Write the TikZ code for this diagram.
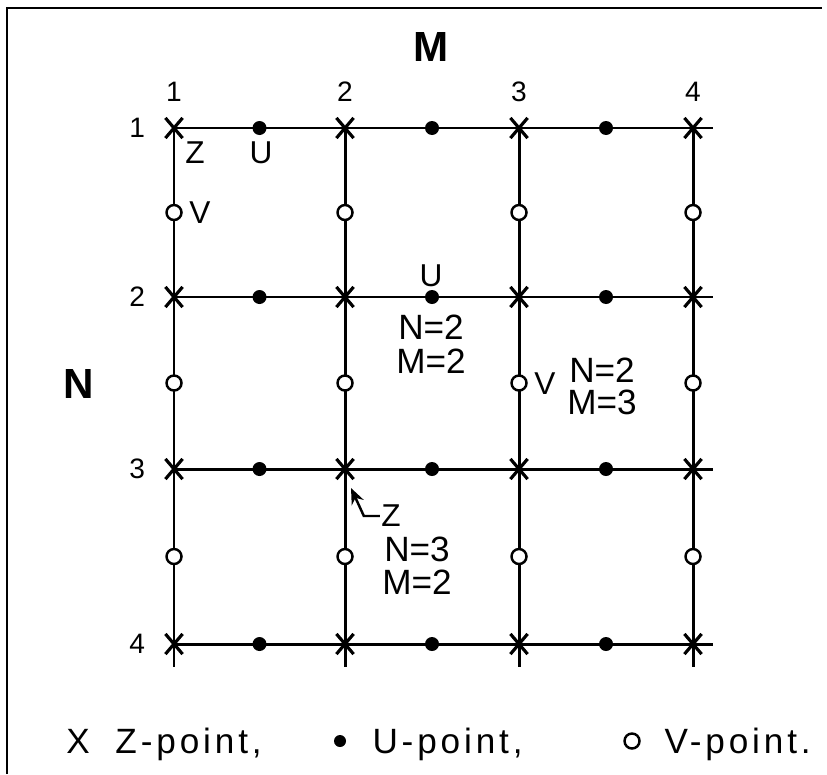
\documentclass[tikz,border=0pt]{standalone}
\usepackage{fontspec}
\setmainfont{Liberation Sans}
\usetikzlibrary{arrows.meta,positioning,calc,shapes.misc}

\begin{document}
\begin{tikzpicture}[
  x=0.02cm, y=-0.02cm,
  line width=1.7pt,
  font=\fontsize{20}{22}\selectfont,
  zpt/.style={cross out, draw, line width=1.8pt, minimum width=0.28cm, minimum height=0.34cm, inner sep=0pt},
  upt/.style={circle, fill, minimum size=0.28cm, inner sep=0pt},
  vpt/.style={circle, draw, fill=white, line width=1.4pt, minimum size=0.3cm, inner sep=0pt},
  num/.style={inner sep=0pt, font=\fontsize{16}{18}\selectfont},
  axlbl/.style={inner sep=0pt, font=\bfseries\fontsize{24}{26}\selectfont},
  ltr/.style={inner sep=0pt, font=\fontsize{18}{20}\selectfont},
  lbl/.style={inner sep=0pt},
  key/.style={inner sep=0pt, anchor=base west, font=\fontsize{20}{22}\selectfont\addfontfeatures{LetterSpace=11}}
]
\useasboundingbox (0,0) rectangle (827,774);
% frame
\draw[line width=1.5pt] (7,774) -- (7,8) -- (822,8);

% grid points
\foreach \x [count=\c] in {174,345,519,693} {
  \foreach \y [count=\r] in {128,297,469,644} {
    \coordinate (p-\r-\c) at (\x,\y);
  }
}
\coordinate (hend) at (713,0);
\coordinate (vend) at (0,667);

% grid lines
\foreach \r in {1,...,4} \draw (p-\r-1) -- (p-\r-4 -| hend);
\foreach \c in {1,...,4} \draw (p-1-\c) -- (p-1-\c |- vend);

% U-, V- and Z-points
\foreach \r in {1,...,4} {
  \foreach \c/\d in {1/2,2/3,3/4}
    \node[upt] (u-\r-\c) at ($(p-\r-\c)!0.5!(p-\r-\d)$) {};
}
\foreach \r/\s in {1/2,2/3,3/4} {
  \foreach \c in {1,...,4}
    \node[vpt] (v-\r-\c) at ($(p-\r-\c)!0.5!(p-\s-\c)$) {};
}
\foreach \r in {1,...,4} {
  \foreach \c in {1,...,4}
    \node[zpt] (z-\r-\c) at (p-\r-\c) {};
}

% numbering
\foreach \c in {1,...,4} \node[num, above=0.29cm of z-1-\c] (col\c) {\c};
\foreach \r in {1,...,4} \node[num, left=0.38cm of z-\r-1] (row\r) {\r};
\node[axlbl] (mtitle) at (431,47) {M};
\node[axlbl] (ntitle) at (79,384) {N};

% labels
\node[ltr] (zone) at (195,153) {Z};
\node[ltr] (uone) at (261,153) {U};
\node[ltr] (vone) at (200,213) {V};
\node[ltr] (utwo) at (431,276) {U};
\node[lbl] (ntwo) at (431,327) {N=2};
\node[lbl, below=0.14cm of ntwo] (mtwo) {M=2};
\node[ltr] (vtwo) at (545,384) {V};
\node[lbl] (nthree) at (602,370) {N=2};
\node[lbl, below=0.1cm of nthree] (mthree) {M=3};
\node[ltr] (zthree) at (391,516) {Z};
\node[lbl] (nfour) at (417,549) {N=3};
\node[lbl, below=0.12cm of nfour] (mfour) {M=2};
\draw[line width=1.4pt, -{Stealth[length=0.32cm, width=0.26cm]}]
  (zthree.west) -- ++(-16,0) -- ([shift={(6,19)}]z-3-2.center);

% legend
\node[key, anchor=base] (kz) at (78,753) {X};
\node[key] (kzt) at (114,753) {Z-point,};
\node[upt, minimum size=0.24cm] (ku) at (340,741) {};
\node[key] (kut) at (371,753) {U-point,};
\node[vpt, minimum size=0.3cm] (kv) at (632,741) {};
\node[key] (kvt) at (663,753) {V-point.};
\end{tikzpicture}
\end{document}
